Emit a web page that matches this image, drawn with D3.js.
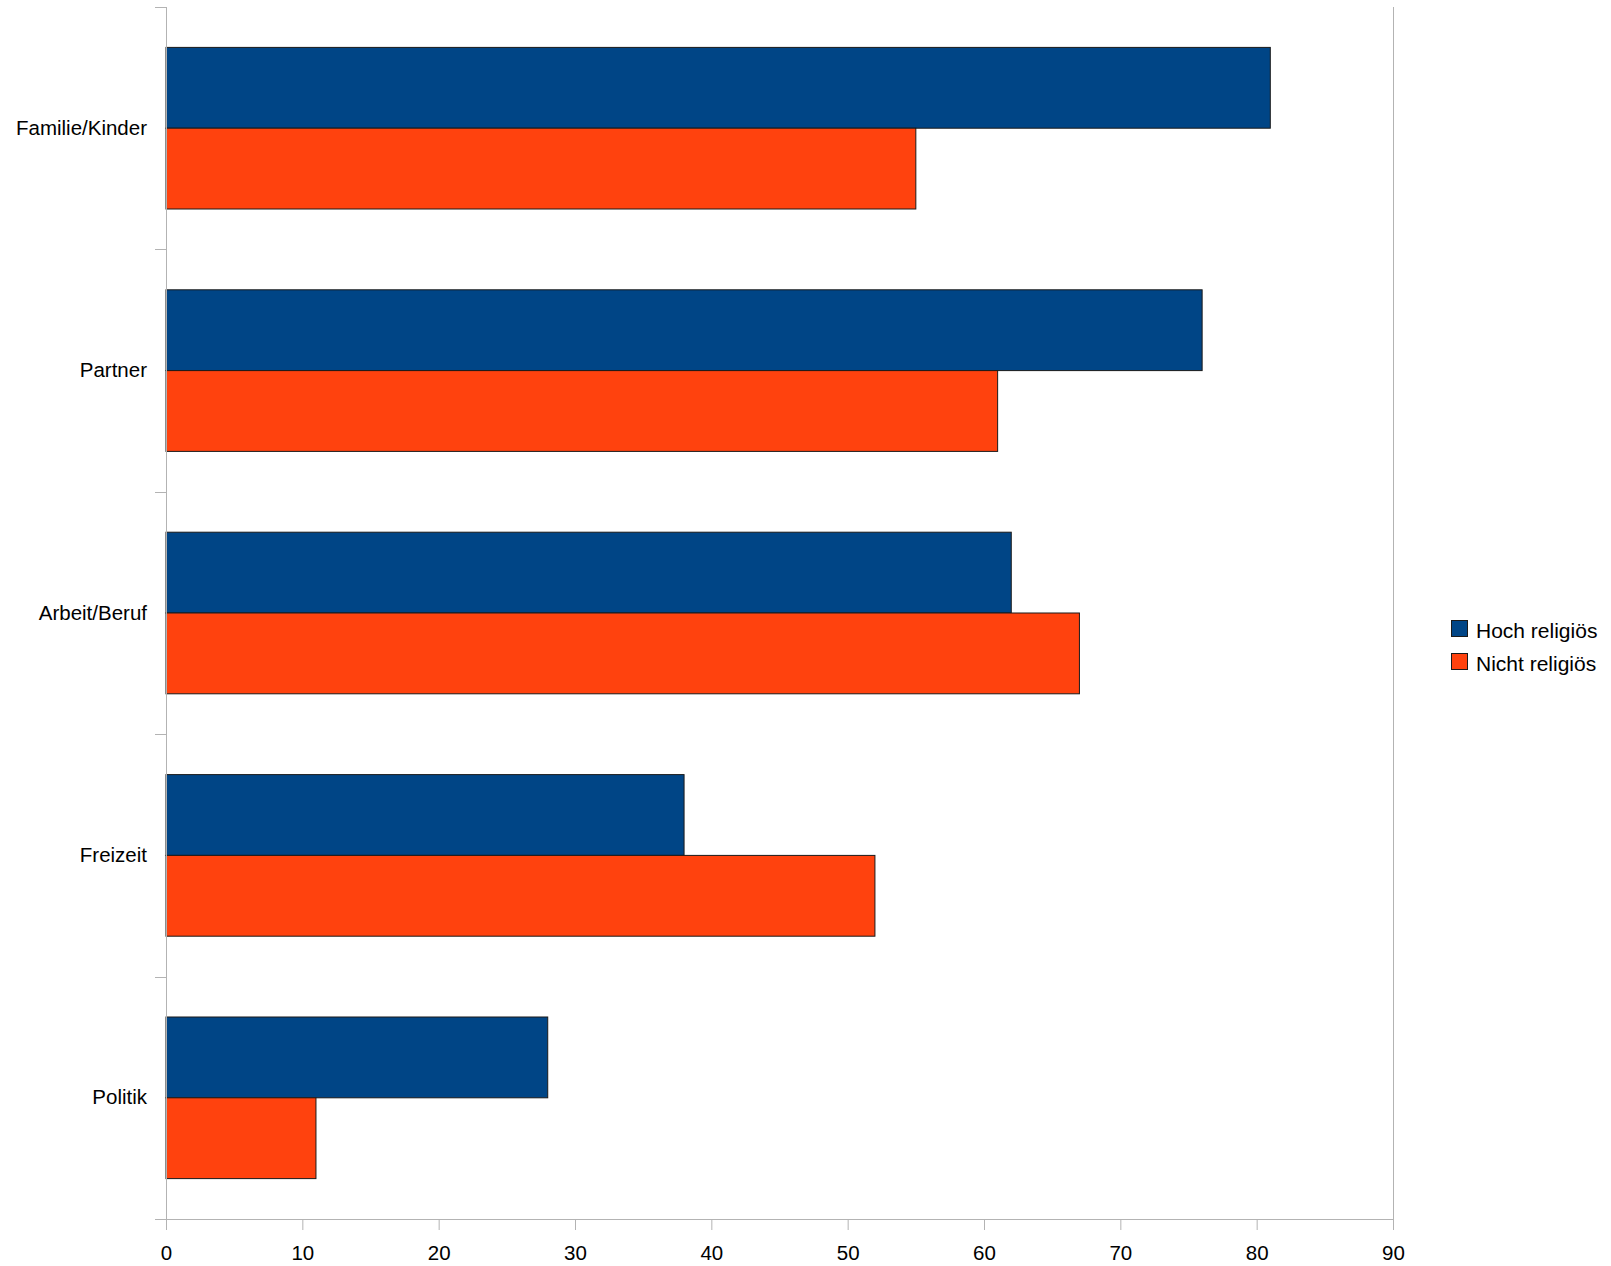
<!DOCTYPE html>
<html>
<head>
<meta charset="utf-8">
<script src="https://cdn.jsdelivr.net/npm/d3@7"></script>
<style>
  body { margin: 0; background: #fff; }
  svg { display: block; font-family: "Liberation Sans", Arial, sans-serif; }
  .axis path, .axis line { stroke: #b3b3b3; }
  .axis text { fill: #000; font-size: 20.5px; }
</style>
</head>
<body>
<div id="chart"></div>
<script>
var categories = ["Familie/Kinder", "Partner", "Arbeit/Beruf", "Freizeit", "Politik"];
var seriesNames = ["Hoch religiös", "Nicht religiös"];
var hochReligioes = [81, 76, 62, 38, 28];
var nichtReligioes = [55, 61, 67, 52, 11];
var xTicks = [0, 10, 20, 30, 40, 50, 60, 70, 80, 90];
var colors = ["#004586", "#ff420e"];

var totalWidth = 1611, totalHeight = 1266;
var margin = {top: 7, left: 166},
    width = 1393 - margin.left,
    height = 1219 - margin.top;

var data = categories.map(function(c, i) {
  return {cat: c, values: [
    {key: seriesNames[0], value: hochReligioes[i]},
    {key: seriesNames[1], value: nichtReligioes[i]}
  ]};
});

var x = d3.scaleLinear().domain([0, 90]).range([0, width]);

var y = d3.scaleBand()
    .domain(categories)
    .range([0, height])
    .padding(0);

var y1 = d3.scaleBand()
    .domain(seriesNames)
    .range([0, y.bandwidth()])
    .paddingInner(0)
    .paddingOuter(0.5);

var color = d3.scaleOrdinal().domain(seriesNames).range(colors);

var svg = d3.select("#chart").append("svg")
    .attr("width", totalWidth)
    .attr("height", totalHeight)
  .append("g")
    .attr("transform", "translate(" + margin.left + "," + margin.top + ")");

// right frame line
svg.append("line")
    .attr("x1", width + 0.5).attr("x2", width + 0.5)
    .attr("y1", 0).attr("y2", height)
    .attr("stroke", "#b3b3b3");

// bars
var groups = svg.selectAll(".group")
    .data(data)
  .enter().append("g")
    .attr("class", "group")
    .attr("transform", function(d) { return "translate(0," + y(d.cat) + ")"; });

groups.selectAll("rect")
    .data(function(d) { return d.values; })
  .enter().append("rect")
    .attr("x", x(0))
    .attr("y", function(d) { return y1(d.key); })
    .attr("width", function(d) { return x(d.value) - x(0); })
    .attr("height", y1.bandwidth())
    .attr("fill", function(d) { return color(d.key); })
    .attr("stroke", "#1a1a1a")
    .attr("stroke-width", 1);

// x axis
var xAxis = d3.axisBottom(x)
    .tickValues(xTicks)
    .tickFormat(d3.format("d"))
    .tickSize(11)
    .tickSizeOuter(0)
    .tickPadding(15);

var gx = svg.append("g")
    .attr("class", "x axis")
    .attr("transform", "translate(0," + height + ")")
    .call(xAxis);
gx.select(".domain").remove();
gx.append("line")
    .attr("x1", -11).attr("x2", width)
    .attr("y1", 0.5).attr("y2", 0.5)
    .attr("stroke", "#b3b3b3");

// y axis: labels at band centres
var yAxis = d3.axisLeft(y)
    .tickSize(0)
    .tickPadding(19);

var gy = svg.append("g")
    .attr("class", "y axis")
    .call(yAxis);
gy.select(".domain").remove();

// y axis line and category boundary ticks
var bounds = categories.map(function(c) { return y(c); });
gy.append("line")
    .attr("x1", 0.5).attr("x2", 0.5)
    .attr("y1", 0).attr("y2", height + 11)
    .attr("stroke", "#b3b3b3");
gy.selectAll(".bound")
    .data(bounds)
  .enter().append("line")
    .attr("class", "bound")
    .attr("x1", -11).attr("x2", 0)
    .attr("y1", function(d) { return Math.round(d) + 0.5; })
    .attr("y2", function(d) { return Math.round(d) + 0.5; })
    .attr("stroke", "#b3b3b3");

// legend
var legend = d3.select("svg").append("g")
    .attr("transform", "translate(1451,620)");

var item = legend.selectAll(".item")
    .data(seriesNames)
  .enter().append("g")
    .attr("class", "item")
    .attr("transform", function(d, i) { return "translate(0," + (i * 33) + ")"; });

item.append("rect")
    .attr("x", 0.5).attr("y", 0.5)
    .attr("width", 16).attr("height", 16)
    .attr("fill", function(d) { return color(d); })
    .attr("stroke", "#1a1a1a");

item.append("text")
    .attr("x", 25)
    .attr("y", 18)
    .style("font-size", "21px")
    .text(function(d) { return d; });
</script>
</body>
</html>
